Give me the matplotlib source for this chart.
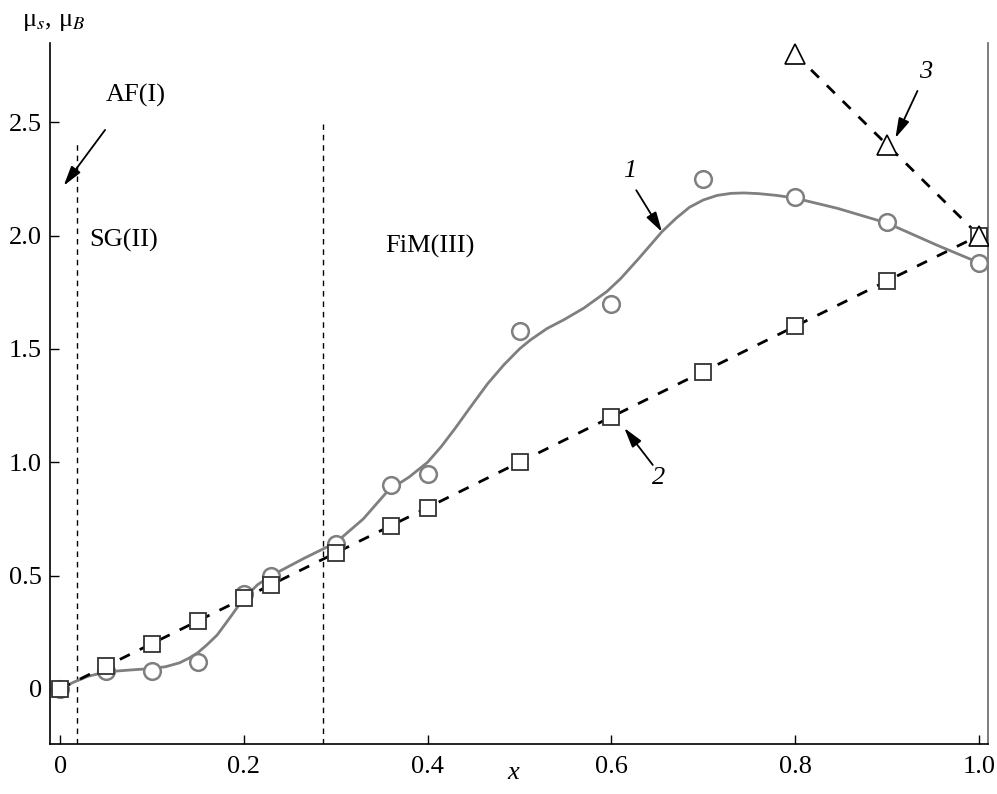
import numpy as np
import matplotlib.pyplot as plt

plt.rcParams['font.family'] = ['Liberation Serif', 'DejaVu Serif']
plt.rcParams['mathtext.fontset'] = 'stix'

# measured points
x_pts = [0, 0.05, 0.1, 0.15, 0.2, 0.23, 0.3, 0.36, 0.4, 0.5, 0.6, 0.7, 0.8, 0.9, 1.0]
circ_y = [0, 0.08, 0.08, 0.12, 0.42, 0.50, 0.64, 0.90, 0.95, 1.58, 1.70, 2.25, 2.17, 2.06, 1.88]
sq_y = [0, 0.10, 0.20, 0.30, 0.40, 0.46, 0.60, 0.72, 0.80, 1.00, 1.20, 1.40, 1.60, 1.80, 2.00]

tri_x = [0.8, 0.9, 1.0]
tri_y = [2.8, 2.4, 2.0]

# smooth curve 1
curve_x = [0, 0.015, 0.03, 0.05, 0.075, 0.1, 0.115, 0.13, 0.14, 0.15, 0.16, 0.171, 0.185,
           0.2, 0.215, 0.23, 0.265, 0.3, 0.33, 0.357, 0.38, 0.4, 0.415, 0.43, 0.446, 0.465,
           0.483, 0.5, 0.512, 0.53, 0.548, 0.57, 0.595, 0.61, 0.63, 0.655, 0.67, 0.685,
           0.70, 0.715, 0.73, 0.744, 0.76, 0.78, 0.8, 0.846, 0.9, 0.954, 1.0]
curve_y = [0, 0.03, 0.055, 0.075, 0.083, 0.09, 0.098, 0.115, 0.135, 0.16, 0.195, 0.238, 0.315,
           0.40, 0.46, 0.50, 0.575, 0.645, 0.75, 0.875, 0.935, 1.0, 1.07, 1.15, 1.24, 1.345,
           1.43, 1.50, 1.54, 1.59, 1.628, 1.68, 1.753, 1.81, 1.90, 2.017, 2.075, 2.125,
           2.157, 2.177, 2.186, 2.188, 2.185, 2.177, 2.165, 2.12, 2.055, 1.958, 1.88]

x_ticks = [0, 0.2, 0.4, 0.6, 0.8, 1.0]
x_labels = ['0', '0.2', '0.4', '0.6', '0.8', '1.0']
y_ticks = [0, 0.5, 1.0, 1.5, 2.0, 2.5]
y_labels = ['0', '0.5', '1.0', '1.5', '2.0', '2.5']

fig = plt.figure(figsize=(9.97, 7.94), dpi=100)
ax = fig.add_axes([0.0502, 0.063, 0.9408, 0.883])

fs = 19
gray = '#7f7f7f'

# phase borders
ax.plot([0.018, 0.018], [-0.243, 2.42], color='black', lw=1.0, ls=(0, (4, 3.5)))
ax.plot([0.286, 0.286], [-0.243, 2.49], color='black', lw=1.0, ls=(0, (4, 3.5)))

ax.plot(curve_x, curve_y, color=gray, lw=2.0, zorder=3)
ax.plot(x_pts, sq_y, color='black', lw=2.0, ls=(0, (4, 4)), zorder=3)
ax.plot(tri_x, tri_y, color='black', lw=2.0, ls=(0, (4, 4)), zorder=3)

ax.plot(x_pts, circ_y, ls='none', marker='o', ms=12, mfc='white', mec=gray, mew=1.8, zorder=4)
ax.plot(x_pts, sq_y, ls='none', marker='s', ms=11, mfc='white', mec='#333333', mew=1.3, zorder=5)
ax.plot(tri_x, tri_y, ls='none', marker='^', ms=14, mfc='white', mec='black', mew=1.2, zorder=6)

arrow = dict(arrowstyle='-|>,head_length=0.6,head_width=0.17', color='black', lw=1.3,
             mutation_scale=20, shrinkA=0, shrinkB=0)
ax.annotate('', xy=(0.004, 2.22), xytext=(0.049, 2.466), arrowprops=arrow)
ax.annotate('', xy=(0.655, 2.016), xytext=(0.627, 2.20), arrowprops=arrow)
ax.annotate('', xy=(0.614, 1.151), xytext=(0.645, 0.988), arrowprops=arrow)
ax.annotate('', xy=(0.909, 2.43), xytext=(0.933, 2.638), arrowprops=arrow)

ax.text(0.082, 2.62, 'AF(I)', fontsize=fs, ha='center', va='center')
ax.text(0.069, 1.98, 'SG(II)', fontsize=fs, ha='center', va='center')
ax.text(0.403, 1.954, 'FiM(III)', fontsize=fs, ha='center', va='center')
ax.text(0.62, 2.285, '1', fontsize=fs, style='italic', ha='center', va='center')
ax.text(0.651, 0.93, '2', fontsize=fs, style='italic', ha='center', va='center')
ax.text(0.942, 2.72, '3', fontsize=fs, style='italic', ha='center', va='center')

ax.set_xlim(-0.0109, 1.0098)
ax.set_ylim(-0.243, 2.85)
ax.set_xticks(x_ticks)
ax.set_xticklabels(x_labels)
ax.set_yticks(y_ticks)
ax.set_yticklabels(y_labels)
ax.tick_params(direction='in', length=6.5, width=1.0, labelsize=fs)
ax.tick_params(axis='x', pad=9)
ax.tick_params(axis='y', pad=6)
ax.spines['top'].set_visible(False)
ax.spines['right'].set_color('#666666')
for s in ['left', 'bottom', 'right']:
    ax.spines[s].set_linewidth(1.2)

fig.text(0.022, 0.972, 'μ$_{s}$, μ$_{B}$', fontsize=fs, ha='left', va='center')
fig.text(0.5146, 0.0265, 'x', fontsize=fs, style='italic', ha='center', va='center')

fig.savefig('out.png', dpi=100)
